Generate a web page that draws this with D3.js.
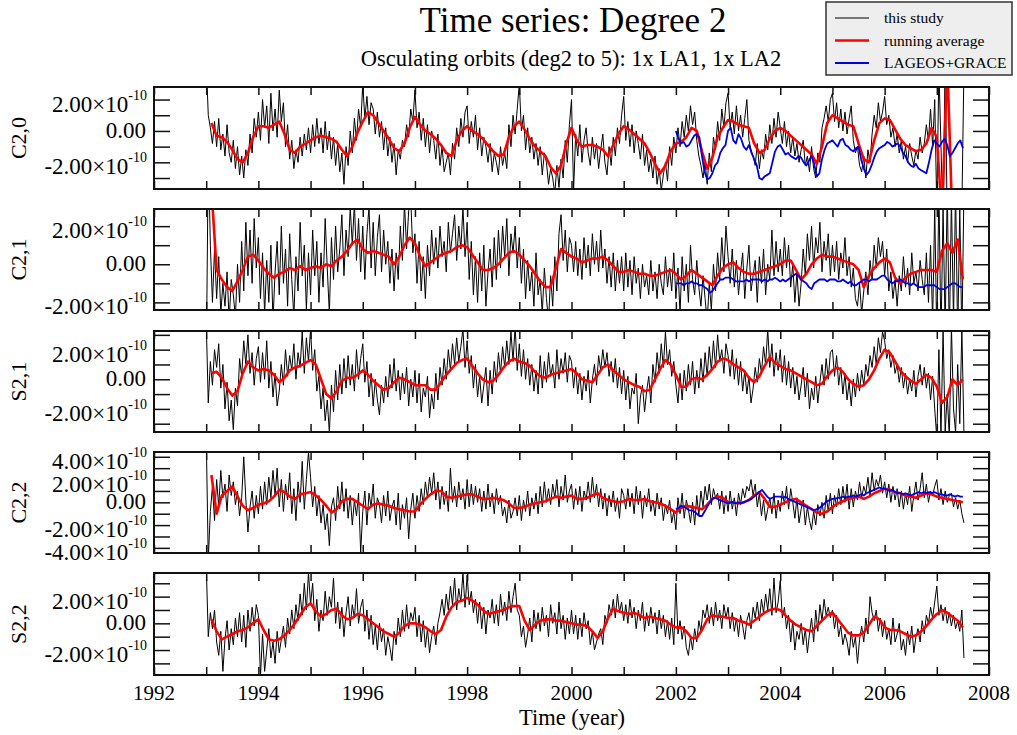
<!DOCTYPE html>
<html><head><meta charset="utf-8">
<script src="https://cdn.jsdelivr.net/npm/d3@7"></script>
<style>
body{margin:0;background:#fff}
svg{display:block}
text{font-family:"Liberation Serif","Times New Roman",serif;fill:#000}
</style>
</head><body>
<svg id="c" width="1017" height="735"></svg>
<script>
// ---------------- DATA (values in units of 1e-11) ----------------
const panelNames = ["C2,0", "C2,1", "S2,1", "C2,2", "S2,2"];
const blackStart = 1993.0, blackStep = 0.04;
const redStart = 1993.1, redStep = 0.1;
const blueStart = 2002.0, blueStep = 0.05;

const xTickYears = [1992,1993,1994,1995,1996,1997,1998,1999,2000,2001,2002,2003,2004,2005,2006,2007,2008];
const xLabelYears = [1992,1994,1996,1998,2000,2002,2004,2006,2008];

const yDomains = [[-37, 28], [-24, 29], [-35.6, 32.6], [-44.5, 44.2], [-38.7, 37.7]];
const yTicks = [
  [-30,-20,-10,0,10,20],
  [-20,-10,0,10,20],
  [-30,-20,-10,0,10,20,30],
  [-40,-30,-20,-10,0,10,20,30,40],
  [-30,-20,-10,0,10,20,30]
];
const yLabelValues = [
  [-20,0,20],
  [-20,0,20],
  [-20,0,20],
  [-40,-20,0,20,40],
  [-20,0,20]
];

const blackC20 = [
 45,10,2,-8,6,-10,8,-12,-2,-16,4,-14,-20,-6,-24,-10,-28,-16,-30,-12,-22,-2,-14,8,-4,
 12,-6,20,2,16,-8,24,0,14,-4,26,6,18,-10,4,-18,-6,-24,-12,-20,-4,-16,-2,-12,2,
 -14,4,-10,8,-8,2,-14,6,-12,0,-18,-4,-22,-8,-26,-14,-34,-10,-22,0,-14,8,-6,14,2,
 30,8,22,4,18,14,-2,12,-4,6,-12,2,-16,-4,-20,-8,-28,-12,-18,-6,-10,4,-4,14,6,
 26,2,12,-6,8,-10,4,-14,0,-6,-18,-2,-22,-10,-26,-20,-14,-28,-8,-18,2,-10,8,-4,12,
 16,-8,6,-4,10,-12,2,-16,-4,-10,-20,-8,-26,-14,-20,-28,-10,-22,-14,-24,4,-10,10,-2,14,
 30,0,10,-12,2,-14,-4,-18,-8,-22,-10,-28,-14,-20,-34,-24,-30,-40,-22,-36,-18,-30,-6,-20,4,
 20,-38,-2,-16,4,-20,-6,2,-14,-22,-4,-18,-8,-24,-12,-2,-20,-28,-10,-22,-4,-16,2,-8,10,
 22,-6,6,-10,4,-14,0,-8,-18,-2,-22,-12,-26,-18,-30,-16,-34,-24,-38,-28,-20,-32,-10,-22,-4,
 -14,2,-10,6,-4,10,0,16,4,12,-6,-16,-22,-30,-20,-34,-14,-26,-4,-12,6,-6,14,2,18,
 24,2,12,-2,16,0,10,-4,8,20,-6,-12,-16,-22,-8,-24,-12,-18,-2,-12,4,-8,8,-4,12,
 2,-8,6,-10,0,-14,-4,-16,-8,-20,-12,-6,-22,-16,-26,-10,-24,-30,-14,-20,2,8,16,6,20,
 24,6,18,2,14,0,12,-2,8,16,-6,-14,-10,-22,-26,-16,-30,-12,-20,-2,10,2,18,6,12,
 22,4,10,-4,2,-10,-2,-14,-6,-18,-10,-20,-8,-16,-22,-12,-18,-4,-14,-8,4,-6,14,-10,20,
 -50,40,-10,-60,50,-60,-55,-60,-50,-60,-55,-60,-50,40
];
const redC20 = [
 5,-3,-4,-7,-12,-18,-20,-14,-4,3,
 3,2,4,6,-2,-12,-14,-10,-8,-6,
 -4,-3,-4,-5,-7,-12,-16,-10,-1,6,
 12,10,5,0,-5,-11,-13,-8,2,9,
 4,0,-2,-5,-9,-14,-16,-6,0,3,
 0,-2,-5,-9,-13,-16,-15,-4,3,6,
 1,-5,-10,-13,-16,-23,-27,-22,-8,2,
 -6,-10,-9,-9,-10,-12,-16,-9,-2,3,
 1,-2,-5,-8,-14,-21,-27,-22,-13,-8,
 -7,-4,2,0,-13,-24,-17,-4,2,7,
 6,4,3,2,-8,-14,-12,-5,0,2,
 0,-3,-6,-9,-12,-15,-21,-10,5,10,
 8,6,4,3,-8,-18,-20,-6,5,8,
 7,1,-5,-9,-11,-13,-12,-8,2,-4,
 -55,45,-60
];
const blueC20 = [
 0,-5,-8,-7,-10,-9,-6,-3,-2,-4,-16,-26,-31,-30,-27,-22,-20,-14,-11,-9,
 0,2,-6,-8,-2,-5,-10,-12,-9,-14,-18,-22,-30,-31,-29,-28,-27,-20,-13,-10,
 -9,-12,-15,-14,-16,-17,-18,-16,-17,-20,-22,-19,-16,-21,-29,-27,-18,-12,-8,-7,
 -6,-8,-10,-6,-5,-9,-10,-12,-13,-11,-10,-18,-24,-28,-26,-22,-17,-13,-11,-10,
 -9,-7,-8,-10,-9,-8,-10,-14,-16,-20,-22,-23,-21,-24,-25,-26,-27,-20,-12,-6,
 -8,-10,-7,-5,-9,-16,-14,-11,-8,-6,-11
];

const blackC21 = [
 -60,60,10,-20,8,-18,4,-26,-10,-22,-4,-30,-8,-16,-28,0,-20,12,-14,22,-6,18,-10,24,-2,
 14,-18,6,-26,2,-20,10,-30,-4,12,-16,20,-10,8,-22,16,-8,-28,4,-14,22,-6,10,-24,6,
 -16,18,-6,12,-20,6,-12,24,-2,-26,14,-8,20,-4,8,26,-6,18,4,30,10,32,2,24,-4,
 20,-8,16,30,-2,22,-6,14,26,-4,18,0,12,-10,8,-14,6,-8,20,2,32,8,28,34,6,
 16,-10,12,-14,4,-18,10,-6,18,0,14,-2,20,4,12,-4,22,6,16,26,2,20,8,30,4,
 22,-8,12,-16,4,-20,6,-14,10,-22,-4,8,-12,14,-8,18,-2,20,4,24,-6,16,6,20,-2,
 14,-10,8,-18,2,-14,-4,-22,6,-16,-8,-26,-2,-18,-30,-6,-22,4,-14,16,26,2,18,-4,14,
 10,-4,12,-6,8,-8,14,-2,10,-6,16,0,12,-4,18,-2,8,-10,4,-12,6,-14,2,-10,4,
 -14,6,-12,2,-16,4,-10,-2,-18,0,-12,-6,-16,2,-14,-4,-18,0,-10,-16,4,-12,-2,-14,6,
 -18,-2,-26,4,-14,0,-20,10,-8,-16,2,-12,-22,-6,-18,-30,-10,-24,0,-14,6,-8,14,-4,20,
 4,-10,8,-12,2,-16,-4,6,-18,-2,10,-14,-6,2,-20,4,-10,8,-16,0,-8,18,-6,12,-4,
 8,-6,14,-2,10,-12,0,-20,-4,-22,-10,8,-6,16,2,20,-2,14,6,22,-4,12,2,16,-6,
 10,-4,12,-8,6,-2,14,-6,4,-12,-2,-18,-22,-10,-26,-14,-4,-16,2,-8,10,-2,14,4,12,
 -6,8,-14,-4,-18,-8,-22,-6,-14,4,-12,-2,-16,6,-10,-4,-14,2,-8,-16,6,-20,10,-30,30,
 -40,40,-40,30,-35,40,-40,35,-30,40,-40,30,-40,40
];
const redC21 = [
 40,-3,-8,-12,-14,-9,-3,4,5,2,
 -2,-5,-7,-5,-4,-2,-3,-1,-3,-2,
 -1,-2,0,-1,2,4,7,11,13,8,
 6,7,6,5,4,0,4,10,14,11,
 4,-1,1,3,5,6,7,9,10,9,
 5,1,-3,-3,-2,0,3,6,7,5,
 2,-1,-5,-9,-12,-12,-2,8,6,4,
 3,1,2,3,3,4,2,-1,-4,-4,
 -3,-4,-5,-5,-6,-6,-5,-4,-3,-5,
 -8,-6,-3,-5,-7,-9,-11,-6,-2,0,
 1,-2,-4,-5,-5,-4,-3,-2,-1,0,
 2,2,-3,-8,-5,0,3,5,4,4,
 3,2,1,0,-3,-12,-6,-2,1,3,
 1,-7,-10,-7,-5,-4,-3,-3,-3,-4,
 7,11,6,13,-8
];
const blueC21 = [
 -10,-10,-10,-11,-10,-10,-9,-10,-10,-11,-11,-12,-13,-15,-14,-12,-10,-8,-8,-7,
 -7,-7,-8,-9,-9,-9,-9,-8,-9,-8,-8,-8,-8,-9,-8,-9,-8,-8,-7,-8,
 -9,-8,-9,-8,-7,-6,-5,-6,-8,-9,-10,-12,-13,-10,-9,-8,-8,-8,-9,-8,
 -8,-8,-9,-9,-8,-9,-10,-9,-11,-11,-10,-9,-8,-8,-9,-8,-8,-8,-7,-6,
 -6,-8,-9,-10,-9,-9,-8,-9,-10,-10,-11,-10,-11,-12,-12,-12,-11,-11,-11,-11,
 -12,-13,-13,-13,-12,-11,-10,-10,-11,-12,-12
];

const blackS21 = [
 40,-16,12,-4,20,8,24,-6,10,-20,-2,-28,-14,-34,-6,-18,14,2,26,10,30,4,18,-4,14,
 22,-2,18,0,26,-6,12,-12,4,-18,-8,10,-4,20,2,16,6,24,0,18,8,32,4,28,12,
 34,6,20,-8,2,-20,-6,-28,-14,-36,-4,-22,6,-14,10,-10,14,-6,16,-4,10,-8,20,0,14,
 24,-2,12,-12,4,-18,0,-14,-24,-4,-16,2,-12,10,-6,14,-8,6,-14,4,-10,8,-18,0,-12,
 6,-16,4,-22,-6,-12,2,-26,-10,-20,4,-14,8,-4,14,0,20,6,24,10,28,12,22,34,8,
 26,4,16,-6,10,-12,2,-16,-4,8,-18,6,-10,12,-2,18,4,22,8,26,10,32,12,36,6,
 24,2,20,0,14,-4,10,-8,6,-10,16,-6,12,-2,18,2,10,-6,20,0,14,4,18,-2,16,
 12,-6,8,-10,4,-14,2,-8,6,-16,0,10,-4,16,6,20,8,18,2,12,-2,14,-6,8,-10,
 6,-14,2,-20,-6,-10,4,-30,-12,-4,-22,-8,2,-16,10,-2,18,4,24,8,32,10,20,2,12,
 -4,-16,4,-14,6,-8,10,-4,12,-10,6,-6,14,-2,18,2,22,6,26,8,30,12,20,4,24,
 16,2,20,0,14,-4,12,-8,6,-10,2,-16,-6,8,-2,14,4,22,10,34,8,24,2,18,6,
 20,-2,16,-4,12,-6,8,-10,2,-14,-4,8,-12,4,-20,-6,-14,2,-16,-2,10,-4,14,0,18,
 20,2,16,-4,8,-10,4,-14,-2,-18,0,-12,4,-8,6,-4,10,2,16,8,22,10,28,18,32,
 26,14,20,8,16,4,10,-2,8,-6,4,-10,0,-8,6,-12,2,10,-4,8,-6,4,-14,2,-20,
 -40,20,-38,34,-36,-10,-40,36,-20,-36,10,-30,34,-36
];
const redS21 = [
 4,5,1,-6,-11,-8,4,12,8,6,
 7,6,3,-2,1,6,8,9,11,13,
 10,0,-10,-13,-8,-1,1,1,3,6,
 3,-1,-4,-7,-6,-2,1,0,-2,-4,
 -4,-4,-7,-7,-2,3,7,11,13,14,
 9,4,0,-2,-1,3,8,12,14,12,
 11,9,5,2,1,3,4,5,6,7,
 4,0,-1,-2,3,8,10,6,3,0,
 -2,-4,-5,-8,-7,0,7,13,10,3,
 -5,-5,0,1,0,3,7,12,14,13,
 10,8,6,1,-2,2,9,15,11,9,
 7,6,4,2,0,-2,-4,-3,2,6,
 8,5,0,-3,-5,-4,0,6,14,20,
 18,12,6,2,-1,-3,0,3,1,-5,
 -16,-12,0,-4,0
];

const blackC22 = [
 60,-50,-8,14,-16,20,-4,28,4,16,-8,24,6,18,-2,10,-12,4,40,2,-26,-4,10,-14,6,
 -10,14,-6,18,-2,22,4,28,6,30,-4,20,-8,16,2,26,-10,12,-16,18,0,36,-6,20,44,
 22,-4,14,-12,6,-18,-2,-24,-10,-38,-4,4,-16,14,-6,18,-8,12,-14,6,-20,2,-12,8,-44,
 -8,10,-20,8,-4,16,-14,4,-2,-18,6,-12,10,-16,-4,2,-20,8,-24,-2,-14,4,-32,-6,8,
 -14,6,-8,12,-2,18,4,22,8,26,2,18,-6,14,-2,10,-8,30,0,14,-4,18,2,12,-6,
 20,-4,16,-2,14,0,12,-8,10,-6,16,-4,8,-10,12,-2,6,-12,-4,-18,2,-14,-8,4,-12,
 6,-16,2,-8,10,-12,4,-6,8,-10,14,-4,18,0,12,-2,16,4,20,-4,14,2,24,0,10,
 16,-6,12,-2,14,-8,10,2,18,0,22,4,16,-4,12,-6,8,-12,6,-4,10,-8,4,-14,12,
 6,-6,12,-4,8,-10,14,-2,10,-14,6,-4,12,-8,2,-12,8,-6,4,-16,-2,-10,2,-18,-8,
 -24,4,-10,8,-14,2,-6,-18,0,-20,6,-12,10,-4,14,2,16,-2,12,4,8,-6,10,-10,6,
 -8,10,-6,4,-12,8,-2,12,4,14,10,20,6,16,-4,8,-12,2,-16,-6,4,-10,8,-14,2,
 -8,10,-2,14,-6,12,0,-14,4,-18,-6,2,-20,-4,-16,-24,-8,-20,-2,-12,0,-14,6,-8,8,
 -10,6,-4,12,-2,14,0,16,-6,12,-4,10,2,18,4,14,8,22,6,26,10,20,14,24,8,
 18,4,16,0,14,2,12,-4,10,-6,8,-2,14,-8,6,18,2,12,26,4,16,0,10,6,14,
 20,2,12,-2,10,0,6,8,-4,4,-6,2,-10,-18
];
const redC22 = [
 24,-10,6,10,14,5,-3,-7,-5,-2,
 -1,1,5,11,9,5,3,7,8,9,
 6,2,-3,-9,-6,1,3,3,0,-3,
 -6,-2,-1,-2,-3,-5,-6,-7,-8,-8,
 -2,3,7,10,10,5,4,5,6,7,
 7,5,3,3,4,3,2,-1,-5,-5,
 -4,-2,-1,0,1,3,5,4,5,6,
 3,3,4,6,8,4,2,1,0,1,
 3,2,2,3,1,0,-1,-3,-6,-9,
 -5,-3,-4,-5,-6,-2,3,5,4,0,
 0,-1,0,2,6,9,3,-4,-4,-2,
 0,2,3,0,-3,-6,-9,-10,-8,-4,
 -1,1,3,4,5,3,5,8,10,12,
 11,9,8,6,5,4,6,8,7,5,
 4,3,2,1,0
];
const blueC22 = [
 -6,-5,-3,-4,-5,-7,-7,-8,-10,-12,-12,-8,-4,0,3,4,3,2,1,0,
 -1,0,0,-1,0,-1,0,1,2,3,5,7,9,11,8,5,3,4,5,5,
 5,4,5,3,2,1,0,-1,-2,-3,-4,-5,-6,-7,-6,-5,-3,-1,1,2,
 3,3,4,4,5,4,5,5,6,5,6,7,6,8,9,10,11,12,13,12,
 12,11,10,11,9,8,8,7,8,7,6,7,8,9,8,9,8,9,8,9,
 8,7,7,6,6,7,6,5,6,5,5
];

const blackS22 = [
 45,-10,8,-4,10,-14,-24,-6,-36,-12,2,-20,-4,-16,4,-10,8,-14,6,-18,10,-6,12,-2,14,
 6,-40,-8,-36,-20,-4,-26,-14,-30,-6,-22,-12,-2,-18,4,-8,10,-4,14,2,22,6,30,10,38,
 14,30,2,18,-6,10,2,24,6,20,12,34,0,16,-4,12,-10,8,20,-2,14,4,26,0,12,
 18,-6,10,-12,6,-16,-2,-20,0,-14,-4,-24,-10,-18,-28,-6,-16,4,-10,10,-6,14,-4,8,2,
 12,-10,6,-14,2,-18,-4,-22,-10,-2,-16,0,8,18,6,22,10,28,14,34,10,26,16,38,12,
 36,14,24,8,18,0,16,-4,12,-8,10,4,18,0,14,-2,22,6,16,2,24,8,20,30,10,
 6,-10,-2,-18,-8,4,-14,10,-4,8,-6,12,-2,6,-10,14,0,8,-8,16,-4,6,-12,4,-8,
 10,-8,6,-12,4,-10,8,-4,2,-16,-6,-20,-14,-8,-4,-16,6,0,14,6,18,4,22,8,16,
 2,14,0,18,4,12,-4,10,2,16,-6,8,-2,12,0,8,-8,10,-4,6,-10,2,-12,4,-16,
 30,-8,2,-12,-2,-18,-24,-10,-20,-4,-14,2,-6,10,4,14,0,12,-2,16,2,10,-4,14,4,
 12,-4,8,-6,4,-10,6,-2,-12,2,8,-4,12,4,16,2,18,8,22,10,26,6,34,8,16,
 32,4,12,-4,6,-14,2,-20,-6,-12,0,-16,-4,-22,-8,4,-14,10,-6,14,2,18,6,12,4,
 10,-4,6,-10,-2,-16,-8,-14,-24,-6,-18,-10,-30,-12,-2,-14,4,-8,20,8,2,10,-6,4,-10,
 2,-12,-4,-16,4,-14,-8,0,-20,-12,-24,-6,-16,-2,-22,-10,-4,-14,2,-8,6,0,12,4,16,
 28,6,14,2,12,0,8,-2,6,-4,2,-6,10,-26
];
const redS22 = [
 3,-6,-12,-10,-8,-6,-5,-3,0,3,
 -5,-12,-13,-12,-9,-5,0,6,12,15,
 9,5,7,10,11,6,3,4,7,6,
 3,0,-3,-6,-8,-10,-7,-2,0,0,
 -1,-3,-6,-8,-5,5,12,16,17,19,
 17,14,10,7,8,9,10,12,13,13,
 2,-5,-1,2,3,3,2,2,1,0,
 -1,-1,-2,-6,-11,-6,4,11,9,8,
 7,8,6,4,5,4,3,2,-1,-3,
 -3,-6,-11,-11,-5,3,6,5,5,4,
 4,2,1,-1,2,5,8,10,11,10,
 6,2,-1,-3,-5,-6,-2,2,6,8,
 3,-2,-7,-9,-9,-7,-1,5,3,-3,
 -5,-5,-6,-8,-10,-9,-6,-2,3,7,
 10,8,5,2,-3
];

const blackSeries = [blackC20, blackC21, blackS21, blackC22, blackS22];
const redSeries = [redC20, redC21, redS21, redC22, redS22];
const blueSeries = [blueC20, blueC21, null, blueC22, null];

const legendLabels = ["this study", "running average", "LAGEOS+GRACE"];
const titleText = "Time series: Degree 2";
const subtitleText = "Osculating orbits (deg2 to 5): 1x LA1, 1x LA2";
const xAxisTitle = "Time (year)";

// ---------------- LAYOUT ----------------
const plotLeft = 154, plotRight = 989;
const panelTops = [87, 209, 331, 452, 573];
const panelBottoms = [189, 310, 432, 553, 675];
const colors = {black: "#000", red: "#ff0000", blue: "#0000e0"};

const svg = d3.select("#c");
const defs = svg.append("defs");
const x = d3.scaleLinear().domain([1992, 2008]).range([plotLeft, plotRight]);

function fmtMain(v) {
  return (v / 10).toFixed(2) + "\u00d710";
}

panelNames.forEach((name, i) => {
  const top = panelTops[i], bot = panelBottoms[i];
  const y = d3.scaleLinear().domain(yDomains[i]).range([bot, top]);
  const g = svg.append("g");
  const cid = "clip" + i;
  defs.append("clipPath").attr("id", cid).append("rect")
    .attr("x", plotLeft).attr("y", top).attr("width", plotRight - plotLeft).attr("height", bot - top);

  const mkLine = (start, step) => d3.line()
    .x((d, k) => x(start + k * step))
    .y(d => y(d));

  const data = g.append("g").attr("clip-path", `url(#${cid})`);
  data.append("path").datum(blackSeries[i])
    .attr("d", mkLine(blackStart, blackStep))
    .attr("fill", "none").attr("stroke", colors.black).attr("stroke-width", 1)
    .attr("stroke-linejoin", "round");
  data.append("path").datum(redSeries[i])
    .attr("d", mkLine(redStart, redStep))
    .attr("fill", "none").attr("stroke", colors.red).attr("stroke-width", 2.6)
    .attr("stroke-linejoin", "round");
  if (blueSeries[i]) {
    data.append("path").datum(blueSeries[i])
      .attr("d", mkLine(blueStart, blueStep))
      .attr("fill", "none").attr("stroke", colors.blue).attr("stroke-width", 1.8)
      .attr("stroke-linejoin", "round");
  }

  const styleAxis = sel => {
    sel.select(".domain").remove();
    sel.selectAll(".tick line").attr("stroke", "#111").attr("stroke-width", 1.5);
    sel.selectAll(".tick text").remove();
  };
  g.append("g").attr("transform", `translate(0,${bot})`)
    .call(d3.axisBottom(x).tickValues(xTickYears).tickSize(-8).tickFormat(""))
    .call(styleAxis);
  g.append("g").attr("transform", `translate(0,${top})`)
    .call(d3.axisTop(x).tickValues(xTickYears).tickSize(-8).tickFormat(""))
    .call(styleAxis);
  g.append("g").attr("transform", `translate(${plotLeft},0)`)
    .call(d3.axisLeft(y).tickValues(yTicks[i]).tickSize(-16).tickFormat(""))
    .call(styleAxis);
  g.append("g").attr("transform", `translate(${plotRight},0)`)
    .call(d3.axisRight(y).tickValues(yTicks[i]).tickSize(-16).tickFormat(""))
    .call(styleAxis);

  g.append("rect").attr("x", plotLeft).attr("y", top)
    .attr("width", plotRight - plotLeft).attr("height", bot - top)
    .attr("fill", "none").attr("stroke", "#111").attr("stroke-width", 2);

  // y tick labels
  yLabelValues[i].forEach(v => {
    const yy = y(v);
    if (v === 0) {
      g.append("text").attr("x", 146).attr("y", yy + 7)
        .attr("text-anchor", "end").attr("font-size", 23).text("0.00");
    } else {
      const t = g.append("text").attr("x", 147).attr("y", yy + 12)
        .attr("text-anchor", "end").attr("font-size", 23);
      t.append("tspan").text(fmtMain(v));
      t.append("tspan").attr("font-size", 14).attr("dy", -12).text("-10");
    }
  });

  const cy = (top + bot) / 2;
  svg.append("text").attr("transform", `translate(26,${cy}) rotate(-90)`)
    .attr("text-anchor", "middle").attr("font-size", 22).text(name);

  if (i === panelNames.length - 1) {
    xLabelYears.forEach(yr => {
      svg.append("text").attr("x", x(yr)).attr("y", bot + 25)
        .attr("text-anchor", "middle").attr("font-size", 21).text(yr);
    });
  }
});

// titles
svg.append("text").attr("x", 573).attr("y", 32).attr("text-anchor", "middle")
  .attr("font-size", 35).text(titleText);
svg.append("text").attr("x", 571).attr("y", 66).attr("text-anchor", "middle")
  .attr("font-size", 22.5).text(subtitleText);
svg.append("text").attr("x", 572).attr("y", 725).attr("text-anchor", "middle")
  .attr("font-size", 22.5).text(xAxisTitle);

// legend
const lg = svg.append("g");
lg.append("rect").attr("x", 826).attr("y", 2).attr("width", 186).attr("height", 73)
  .attr("fill", "#eeeeee").attr("stroke", "#333").attr("stroke-width", 1.5);
const legColors = [colors.black, colors.red, colors.blue];
const legWidths = [1, 2.6, 2];
legendLabels.forEach((lab, k) => {
  const yy = 18 + k * 22.5;
  lg.append("line").attr("x1", 835).attr("x2", 869).attr("y1", yy).attr("y2", yy)
    .attr("stroke", legColors[k]).attr("stroke-width", legWidths[k]);
  lg.append("text").attr("x", 884).attr("y", yy + 5).attr("font-size", 15.5).text(lab);
});
</script>
</body></html>
